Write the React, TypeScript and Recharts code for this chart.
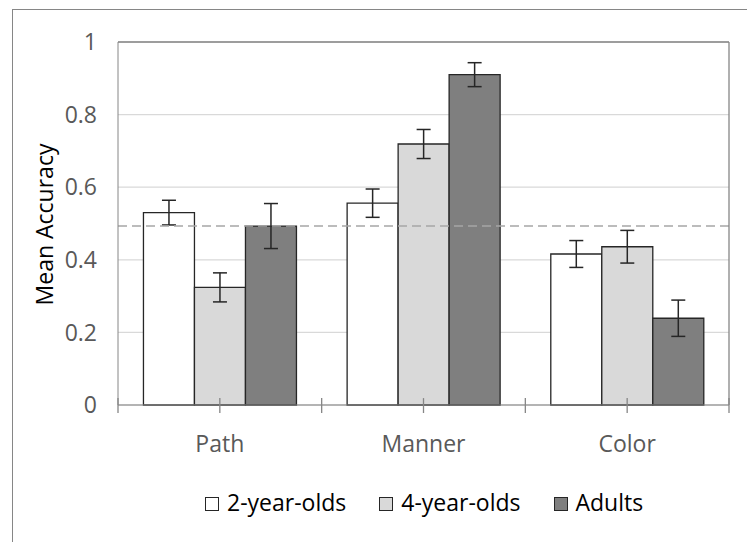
import React from 'react';
import {
  BarChart, Bar, XAxis, YAxis, CartesianGrid, ErrorBar, ReferenceLine,
} from 'recharts';

const categories = ['Path', 'Manner', 'Color'];
const twoYearOlds = [0.53, 0.556, 0.416];
const fourYearOlds = [0.324, 0.719, 0.436];
const adults = [0.493, 0.91, 0.239];
const twoYearErr = [0.034, 0.039, 0.037];
const fourYearErr = [0.04, 0.04, 0.045];
const adultsErr = [0.062, 0.033, 0.05];
const chanceLevel = 0.493;
const yTicks = [0, 0.2, 0.4, 0.6, 0.8, 1];

const series = [
  { key: 'two', err: 'twoErr', name: '2-year-olds', fill: '#ffffff' },
  { key: 'four', err: 'fourErr', name: '4-year-olds', fill: '#d9d9d9' },
  { key: 'adults', err: 'adultsErr', name: 'Adults', fill: '#7f7f7f' },
];

const data = categories.map((c, i) => ({
  name: c,
  two: twoYearOlds[i],
  four: fourYearOlds[i],
  adults: adults[i],
  twoErr: twoYearErr[i],
  fourErr: fourYearErr[i],
  adultsErr: adultsErr[i],
}));

const FONT = '"Open Sans", sans-serif';
const AXIS = '#868686';

// axis tick marks at band edges and centres, crossing the x axis
const tickMarks = [
  ...categories.flatMap(c => [
    { cat: c, pos: 'start' as const },
    { cat: c, pos: 'middle' as const },
  ]),
  { cat: categories[categories.length - 1], pos: 'end' as const },
];

function YTitle({ viewBox }: any) {
  const cy = viewBox.y + viewBox.height / 2 + 1;
  return (
    <text
      transform={`translate(53, ${cy}) rotate(-90)`}
      textAnchor="middle"
      fill="#000"
      style={{ fontFamily: FONT, fontSize: 23 }}
    >
      Mean Accuracy
    </text>
  );
}

export default function App() {
  return (
    <div style={{ position: 'absolute', left: 0, top: 0, width: 747, height: 542, background: '#fff', overflow: 'hidden' }}>
      <div
        style={{
          position: 'absolute', left: 12, top: 9, width: 760, height: 560,
          borderLeft: `1px solid ${AXIS}`, borderTop: `1px solid ${AXIS}`,
        }}
      />
      <div style={{ position: 'absolute', left: 0, top: 0 }}>
        <BarChart
          width={747}
          height={542}
          data={data}
          margin={{ top: 42, right: 18, bottom: 97, left: 78 }}
          barCategoryGap="12.5%"
          barGap={0}
        >
          <CartesianGrid vertical={false} stroke="#d9d9d9" strokeWidth={1.3} />
          <XAxis
            dataKey="name"
            height={40}
            stroke={AXIS}
            tickLine={false}
            tickSize={0}
            tickMargin={31}
            tick={{ fill: '#595959', fontSize: 23, fontFamily: FONT }}
          />
          <YAxis
            width={40}
            domain={[0, 1]}
            ticks={yTicks}
            stroke={AXIS}
            tickLine={false}
            tickSize={0}
            tickMargin={21}
            tick={{ fill: '#595959', fontSize: 23, fontFamily: FONT }}
            label={<YTitle />}
          />
          {series.map(s => (
            <Bar
              key={s.key}
              dataKey={s.key}
              name={s.name}
              fill={s.fill}
              stroke="#262626"
              strokeWidth={1.3}
              isAnimationActive={false}
            >
              <ErrorBar dataKey={s.err} width={7} stroke="#262626" strokeWidth={1.5} />
            </Bar>
          ))}
          <ReferenceLine y={chanceLevel} stroke="#a6a6a6" strokeWidth={1.5} strokeDasharray="9 5" />
          <ReferenceLine y={1} stroke={AXIS} strokeWidth={1.3} />
          <ReferenceLine x={categories[categories.length - 1]} position="end" stroke={AXIS} strokeWidth={1.3} />
          {tickMarks.map((t, i) => (
            <ReferenceLine
              key={i}
              position={t.pos}
              segment={[{ x: t.cat, y: -0.022 }, { x: t.cat, y: 0.019 }]}
              ifOverflow="visible"
              stroke={AXIS}
              strokeWidth={1.3}
            />
          ))}
        </BarChart>
      </div>
      <div
        style={{
          position: 'absolute', left: 205, top: 487, whiteSpace: 'nowrap',
          fontFamily: FONT, fontSize: 23, lineHeight: '31px', color: '#000',
        }}
      >
        {series.map(s => (
          <span key={s.key} style={{ marginRight: 33 }}>
            <span
              style={{
                display: 'inline-block', width: 14, height: 14, boxSizing: 'border-box',
                border: '1px solid #262626', background: s.fill, marginRight: 8,
              }}
            />
            {s.name}
          </span>
        ))}
      </div>
    </div>
  );
}
